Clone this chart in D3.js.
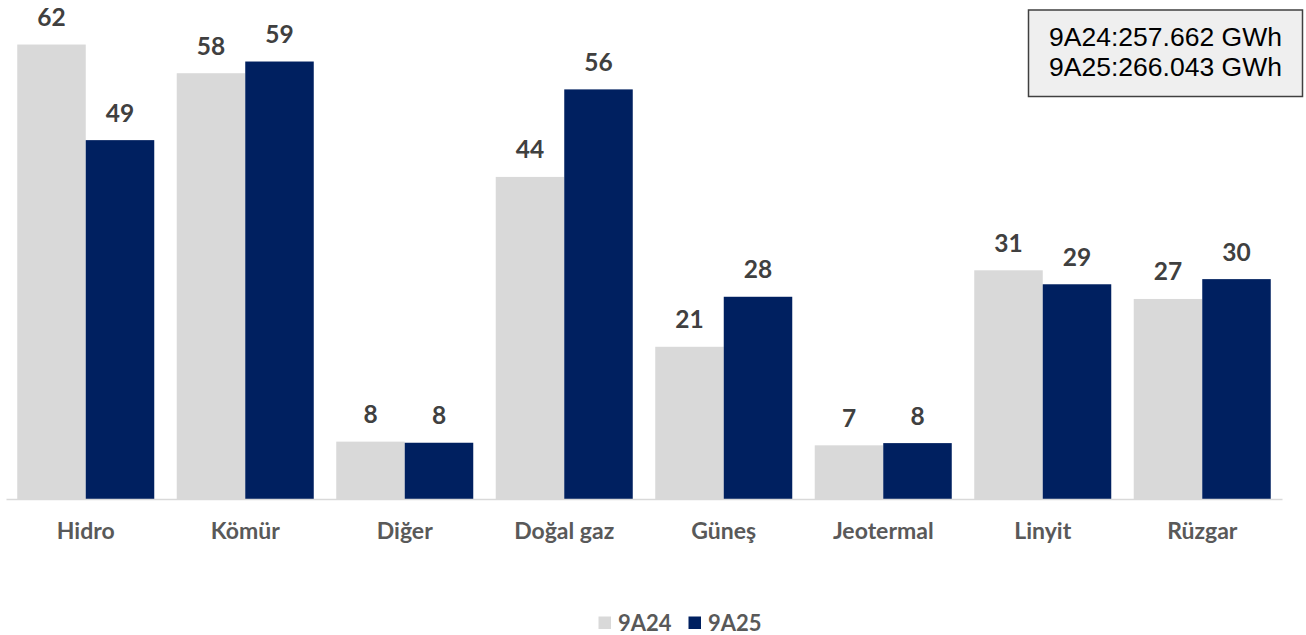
<!DOCTYPE html>
<html><head><meta charset="utf-8">
<script src="https://cdn.jsdelivr.net/npm/d3@7/dist/d3.min.js"></script>
<style>html,body{margin:0;padding:0;background:#fff;overflow:hidden}</style>
</head><body>
<svg id="chart" width="1306" height="635"></svg>
<script>
const categories = ["Hidro","Kömür","Diğer","Doğal gaz","Güneş","Jeotermal","Linyit","Rüzgar"];
const seriesNames = ["9A24","9A25"];
const values9A24 = [61.8,57.9,7.8,43.8,20.7,7.3,31.1,27.2];
const values9A25 = [48.8,59.49,7.65,55.7,27.5,7.6,29.2,29.9];
const totals = ["9A24:257.662 GWh","9A25:266.043 GWh"];
const colors = ["#d9d9d9","#002060"];

const svg = d3.select("#chart");
const baseY = 499, topY = 21;
const x = d3.scaleBand().domain(categories).range([6,1282]).paddingInner(0.141).paddingOuter(0.0705);
const xs = d3.scaleBand().domain(seriesNames).range([0,x.bandwidth()]);
const y = d3.scaleLinear().domain([0,65]).range([baseY,topY]);

const data = categories.map((c,i)=>({cat:c, vals:[values9A24[i],values9A25[i]]}));

const g = svg.append("g");
const groups = g.selectAll("g.cat").data(data).join("g")
  .attr("transform", d=>`translate(${x(d.cat)},0)`);
groups.selectAll("rect").data(d=>d.vals.map((v,j)=>({v, s:seriesNames[j], j}))).join("rect")
  .attr("x", d=>xs(d.s)).attr("width", xs.bandwidth())
  .attr("y", d=>y(d.v)).attr("height", d=>baseY-y(d.v))
  .attr("fill", d=>colors[d.j]);
groups.selectAll("text.val").data(d=>d.vals.map((v,j)=>({v, s:seriesNames[j], j}))).join("text")
  .attr("class","val")
  .attr("x", d=>xs(d.s)+xs.bandwidth()/2)
  .attr("y", d=>y(d.v)-18.5)
  .attr("text-anchor","middle")
  .attr("font-family","Lato, 'Open Sans', sans-serif").attr("font-weight","bold")
  .attr("font-size",24.5).attr("fill","#404040")
  .text(d=>d3.format(".0f")(d.v));

// x axis
const xAxis = d3.axisBottom(x).tickSize(0).tickPadding(0);
const ax = svg.append("g").attr("transform",`translate(0,${baseY})`).call(xAxis);
ax.select(".domain").attr("stroke","#d9d9d9").attr("stroke-width",1.5);
ax.selectAll(".tick text").attr("dy",0).attr("y",39.5)
  .attr("font-family","Lato, 'Open Sans', sans-serif").attr("font-weight","bold")
  .attr("font-size",23).attr("fill","#595959");

// totals box
const box = svg.append("g");
box.append("rect").attr("x",1028.5).attr("y",10).attr("width",274).attr("height",86.5)
  .attr("fill","#efefef").attr("stroke","#404040").attr("stroke-width",1.5);
box.selectAll("text").data(totals).join("text")
  .attr("x",1165.5).attr("y",(d,i)=>45.5+i*30.5)
  .attr("text-anchor","middle")
  .attr("font-family","'Liberation Sans', Arial, sans-serif")
  .attr("font-size",26.5).attr("fill","#000").text(d=>d);

// legend
const legX = [598.5, 688.5];
const leg = svg.append("g").selectAll("g").data(seriesNames).join("g")
  .attr("transform",(d,i)=>`translate(${legX[i]},616.5)`);
leg.append("rect").attr("width",12.5).attr("height",12.5).attr("fill",(d,i)=>colors[i]);
leg.append("text").attr("x",19.5).attr("y",14)
  .attr("font-family","Lato, 'Open Sans', sans-serif").attr("font-weight","bold")
  .attr("font-size",22).attr("fill","#595959").text(d=>d);
</script>
</body></html>
